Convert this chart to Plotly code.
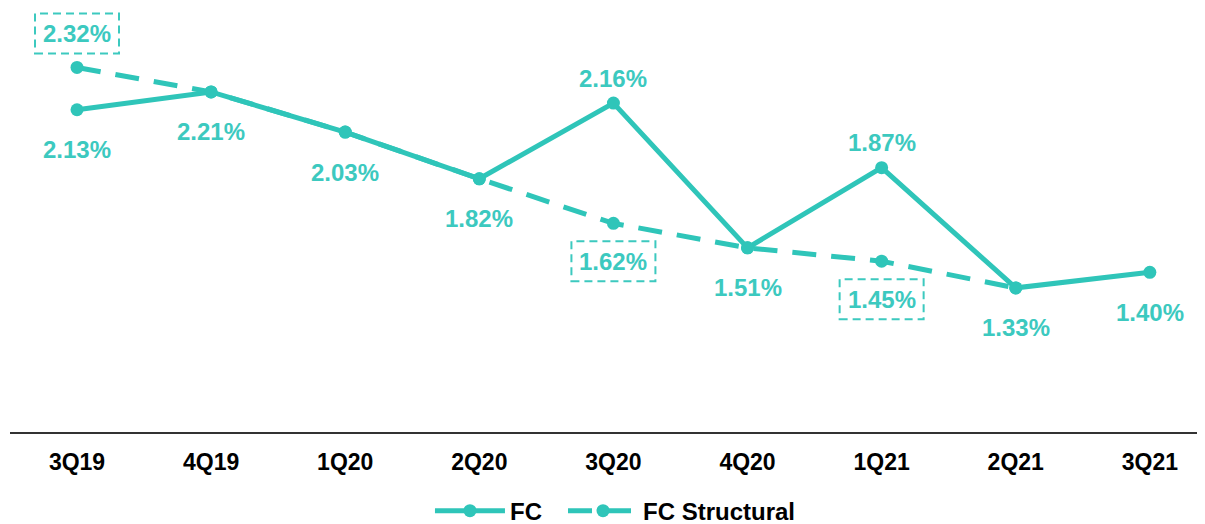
import plotly.graph_objects as go

categories = ["3Q19", "4Q19", "1Q20", "2Q20", "3Q20", "4Q20", "1Q21", "2Q21", "3Q21"]
fc_values = [2.13, 2.21, 2.03, 1.82, 2.16, 1.51, 1.87, 1.33, 1.40]
structural_values = [2.32, 2.21, 2.03, 1.82, 1.62, 1.51, 1.45, 1.33, None]
# label placement for FC (above / below the point)
fc_label_pos = ["below", "below", "below", "below", "above", "below", "above", "below", "below"]
# which structural points carry a boxed label, and where
structural_boxed = {0: "above", 4: "below", 6: "below"}

LINE = "#2fc5b9"
TEXT = "#3cc9bf"
FONT = "Liberation Sans"

xs = list(range(len(categories)))

fig = go.Figure()
fig.add_trace(go.Scatter(
    x=xs, y=fc_values, name="FC", mode="lines+markers",
    line=dict(color=LINE, width=5), marker=dict(size=13, color=LINE),
    legend="legend",
))
fig.add_trace(go.Scatter(
    x=xs, y=structural_values, name="FC Structural", mode="lines+markers",
    line=dict(color=LINE, width=5, dash="24px,15px"), marker=dict(size=13, color=LINE),
    connectgaps=False, legend="legend2",
))

annotations = []
for i, (v, pos) in enumerate(zip(fc_values, fc_label_pos)):
    annotations.append(dict(
        x=i, y=v, xref="x", yref="y", text=f"{v:.2f}%", showarrow=False,
        yshift=-40 if pos == "below" else 25, yanchor="middle",
        font=dict(family=FONT, size=24, color=TEXT, weight="bold"),
    ))

shapes = []
for i, pos in structural_boxed.items():
    v = structural_values[i]
    off = 34 if pos == "above" else -38
    annotations.append(dict(
        x=i, y=v, xref="x", yref="y", text=f"{v:.2f}%", showarrow=False,
        yshift=off, yanchor="middle",
        font=dict(family=FONT, size=24, color=TEXT, weight="bold"),
    ))
    shapes.append(dict(
        type="rect", xref="x", yref="y",
        xsizemode="pixel", ysizemode="pixel", xanchor=i, yanchor=v,
        x0=-42, x1=42, y0=off - 20, y1=off + 20,
        line=dict(color=TEXT, width=2, dash="8px,5px"),
        fillcolor="rgba(0,0,0,0)",
    ))

legend_common = dict(orientation="h", xref="paper", xanchor="left",
                     yref="container", y=0.040, yanchor="middle",
                     font=dict(family=FONT, size=24, color="black", weight="bold"),
                     itemwidth=70, bgcolor="rgba(0,0,0,0)")

fig.update_layout(
    width=1205, height=524,
    margin=dict(l=2, r=0, t=0, b=100),
    paper_bgcolor="white", plot_bgcolor="white",
    showlegend=True,
    legend=dict(x=0.3491, **legend_common),
    legend2=dict(x=0.4597, **legend_common),
    annotations=annotations,
    shapes=shapes,
    xaxis=dict(range=[-0.4996, 8.471], tickvals=xs, ticktext=categories,
               showgrid=False, zeroline=False, showline=True, linecolor="#333333", linewidth=2,
               ticks="", ticklabelstandoff=8,
               tickfont=dict(family=FONT, size=23, color="black", weight="bold")),
    yaxis=dict(range=[0.683, 2.587], showgrid=False, zeroline=False,
               showticklabels=False, showline=False),
)

fig.write_html("out.html")
